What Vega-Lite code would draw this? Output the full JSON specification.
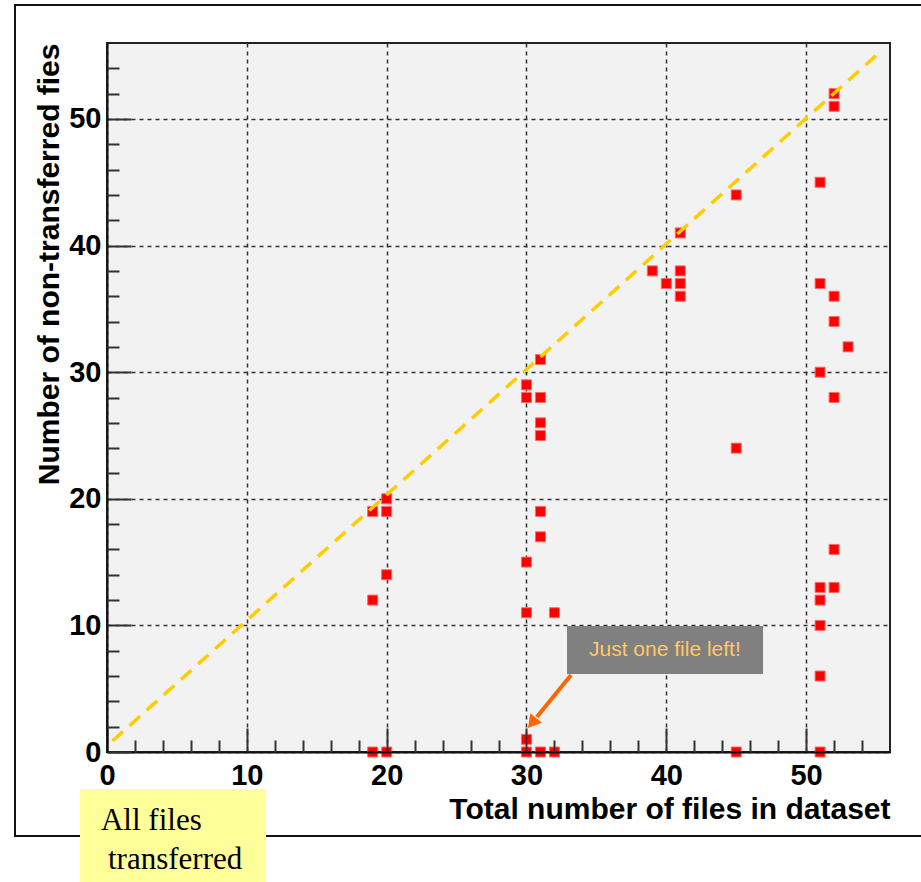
{
  "$schema": "https://vega.github.io/schema/vega-lite/v6.json",
  "width": 783,
  "height": 709,
  "autosize": {"type": "none"},
  "padding": {"left": 107, "top": 43, "right": 31, "bottom": 130},
  "background": "white",
  "config": {
    "view": {"fill": "#f2f2f2", "stroke": "#222222", "strokeWidth": 2},
    "axis": {
      "labelFont": "Liberation Sans",
      "labelFontWeight": "bold",
      "labelFontSize": 29,
      "labelColor": "#000000",
      "labelFlush": false,
      "labelOverlap": false,
      "titleFont": "Liberation Sans",
      "titleFontWeight": "bold",
      "titleFontSize": 30,
      "titleColor": "#000000",
      "titleAnchor": "end"
    }
  },
  "resolve": {"axis": {"x": "independent", "y": "independent"}},
  "layer": [
    {
      "data": {"values": [{}]},
      "mark": {"type": "rect", "fillOpacity": 0, "stroke": "#111111", "strokeWidth": 2},
      "encoding": {
        "x": {"datum": -6.58, "type": "quantitative", "axis": null},
        "x2": {"datum": 59.5},
        "y": {"datum": 59.0, "type": "quantitative", "axis": null},
        "y2": {"datum": -6.63}
      }
    },
    {
      "data": {"values": [
        {"total": 19, "nontransferred": 19}, {"total": 19, "nontransferred": 12}, {"total": 19, "nontransferred": 0},
        {"total": 20, "nontransferred": 20}, {"total": 20, "nontransferred": 19}, {"total": 20, "nontransferred": 14}, {"total": 20, "nontransferred": 0},
        {"total": 30, "nontransferred": 29}, {"total": 30, "nontransferred": 28}, {"total": 30, "nontransferred": 15}, {"total": 30, "nontransferred": 11}, {"total": 30, "nontransferred": 1}, {"total": 30, "nontransferred": 0},
        {"total": 31, "nontransferred": 31}, {"total": 31, "nontransferred": 28}, {"total": 31, "nontransferred": 26}, {"total": 31, "nontransferred": 25}, {"total": 31, "nontransferred": 19}, {"total": 31, "nontransferred": 17}, {"total": 31, "nontransferred": 0},
        {"total": 32, "nontransferred": 11}, {"total": 32, "nontransferred": 0},
        {"total": 39, "nontransferred": 38}, {"total": 40, "nontransferred": 37},
        {"total": 41, "nontransferred": 41}, {"total": 41, "nontransferred": 38}, {"total": 41, "nontransferred": 37}, {"total": 41, "nontransferred": 36},
        {"total": 45, "nontransferred": 44}, {"total": 45, "nontransferred": 24}, {"total": 45, "nontransferred": 0},
        {"total": 51, "nontransferred": 45}, {"total": 51, "nontransferred": 37}, {"total": 51, "nontransferred": 30}, {"total": 51, "nontransferred": 13}, {"total": 51, "nontransferred": 12}, {"total": 51, "nontransferred": 10}, {"total": 51, "nontransferred": 6}, {"total": 51, "nontransferred": 0},
        {"total": 52, "nontransferred": 52}, {"total": 52, "nontransferred": 51}, {"total": 52, "nontransferred": 36}, {"total": 52, "nontransferred": 34}, {"total": 52, "nontransferred": 28}, {"total": 52, "nontransferred": 16}, {"total": 52, "nontransferred": 13},
        {"total": 53, "nontransferred": 32}
      ]},
      "mark": {"type": "square", "size": 100, "color": "#ff0000", "opacity": 1, "stroke": "#ff6a6a", "strokeWidth": 1},
      "encoding": {
        "x": {
          "field": "total", "type": "quantitative",
          "scale": {"domain": [0, 56], "nice": false, "zero": false},
          "axis": {
            "orient": "bottom",
            "title": "Total number of files in dataset",
            "values": [0, 10, 20, 30, 40, 50],
            "ticks": false, "domain": false,
            "grid": true, "gridColor": "#333333", "gridDash": [4, 4], "gridWidth": 1.5,
            "labelPadding": 9, "titlePadding": 4
          }
        },
        "y": {
          "field": "nontransferred", "type": "quantitative",
          "scale": {"domain": [0, 56], "nice": false, "zero": false},
          "axis": {
            "orient": "left",
            "title": "Number of non-transferred fies",
            "values": [0, 10, 20, 30, 40, 50],
            "ticks": false, "domain": false,
            "grid": true, "gridColor": "#333333", "gridDash": [4, 4], "gridWidth": 1.5,
            "labelPadding": 6, "titlePadding": 4
          }
        }
      }
    },
    {
      "data": {"values": [
        {"total": 0.39, "nontransferred": 0.87},
        {"total": 55.4, "nontransferred": 55.4}
      ]},
      "mark": {"type": "line", "color": "#ffcc00", "strokeWidth": 3.5, "strokeDash": [14, 9], "strokeCap": "butt"},
      "encoding": {
        "x": {
          "field": "total", "type": "quantitative",
          "axis": {"orient": "bottom", "values": [0, 10, 20, 30, 40, 50], "ticks": true, "tickSize": -24, "tickWidth": 2, "tickColor": "#333333", "labels": false, "domain": true, "domainColor": "#111111", "domainWidth": 2, "grid": false, "title": null, "zindex": 1}
        },
        "y": {
          "field": "nontransferred", "type": "quantitative",
          "axis": {"orient": "left", "values": [0, 10, 20, 30, 40, 50], "ticks": true, "tickSize": -24, "tickWidth": 2, "tickColor": "#333333", "labels": false, "domain": true, "domainColor": "#111111", "domainWidth": 2, "grid": false, "title": null, "zindex": 1}
        }
      }
    },
    {
      "data": {"values": [{}]},
      "mark": {"type": "rect", "color": "#808080", "opacity": 1},
      "encoding": {
        "x": {"datum": 32.9, "type": "quantitative", "axis": null},
        "x2": {"datum": 46.92},
        "y": {"datum": 9.95, "type": "quantitative", "axis": null},
        "y2": {"datum": 6.16}
      }
    },
    {
      "data": {"values": [{}]},
      "mark": {"type": "text", "text": "Just one file left!", "font": "Liberation Sans", "fontSize": 21, "color": "#ffc966", "align": "center", "baseline": "middle"},
      "encoding": {
        "x": {"datum": 39.9, "type": "quantitative", "axis": null},
        "y": {"datum": 8.06, "type": "quantitative", "axis": null}
      }
    },
    {
      "data": {"values": [{}]},
      "mark": {"type": "rule", "color": "#ff6600", "strokeWidth": 4},
      "encoding": {
        "x": {
          "datum": 33.19, "type": "quantitative",
          "axis": {"orient": "bottom", "values": [2, 4, 6, 8, 12, 14, 16, 18, 22, 24, 26, 28, 32, 34, 36, 38, 42, 44, 46, 48, 52, 54], "ticks": true, "tickSize": -12, "tickWidth": 2, "tickColor": "#333333", "labels": false, "domain": false, "grid": false, "title": null, "zindex": 1}
        },
        "x2": {"datum": 30.74},
        "y": {
          "datum": 6.08, "type": "quantitative",
          "axis": {"orient": "left", "values": [2, 4, 6, 8, 12, 14, 16, 18, 22, 24, 26, 28, 32, 34, 36, 38, 42, 44, 46, 48, 52, 54], "ticks": true, "tickSize": -12, "tickWidth": 2, "tickColor": "#333333", "labels": false, "domain": false, "grid": false, "title": null, "zindex": 1}
        },
        "y2": {"datum": 2.76}
      }
    },
    {
      "data": {"values": [{}]},
      "mark": {"type": "point", "shape": "triangle-up", "size": 225, "filled": true, "color": "#ff6600", "opacity": 1, "angle": 219},
      "encoding": {
        "x": {"datum": 30.4, "type": "quantitative", "axis": null},
        "y": {"datum": 2.29, "type": "quantitative", "axis": null}
      }
    },
    {
      "data": {"values": [{}]},
      "mark": {"type": "rect", "color": "#ffff99", "opacity": 1},
      "encoding": {
        "x": {"datum": -1.93, "type": "quantitative", "axis": null},
        "x2": {"datum": 11.37},
        "y": {"datum": -2.92, "type": "quantitative", "axis": null},
        "y2": {"datum": -11.3}
      }
    },
    {
      "data": {"values": [{}]},
      "mark": {"type": "text", "text": "All files", "font": "Liberation Serif", "fontSize": 31, "color": "#000000", "align": "left", "baseline": "alphabetic"},
      "encoding": {
        "x": {"datum": -0.43, "type": "quantitative", "axis": null},
        "y": {"datum": -6.16, "type": "quantitative", "axis": null}
      }
    },
    {
      "data": {"values": [{}]},
      "mark": {"type": "text", "text": "transferred", "font": "Liberation Serif", "fontSize": 31, "color": "#000000", "align": "left", "baseline": "alphabetic"},
      "encoding": {
        "x": {"datum": 0.07, "type": "quantitative", "axis": null},
        "y": {"datum": -9.24, "type": "quantitative", "axis": null}
      }
    }
  ]
}
